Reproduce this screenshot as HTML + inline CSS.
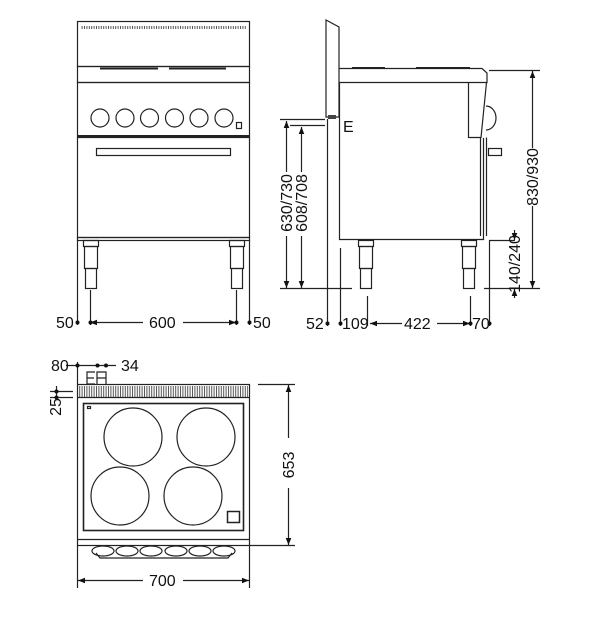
<!DOCTYPE html>
<html><head><style>
html,body{margin:0;padding:0;background:#fff;width:603px;height:630px;overflow:hidden}
text{font-family:"Liberation Sans",Arial,sans-serif;font-size:16px;fill:#111}
</style></head><body>
<svg width="603" height="630" viewBox="0 0 603 630" xmlns="http://www.w3.org/2000/svg">
<defs>
<pattern id="vent" x="0" y="0" width="2.4" height="12" patternUnits="userSpaceOnUse">
<rect x="0" y="0" width="1" height="12" fill="#555"/>
</pattern>
<marker id="ar" viewBox="0 0 10 10" refX="10" refY="5" markerWidth="6" markerHeight="6" orient="auto-start-reverse"><path d="M0,1 L10,5 L0,9 z" fill="#111"/></marker>
</defs>
<g fill="none" stroke="#222" stroke-width="1.2">
<!-- FRONT VIEW -->
<rect x="77.5" y="21.5" width="172" height="45"/>
<rect x="81" y="26" width="165" height="3" fill="url(#vent)" stroke="none"/>
<rect x="77.5" y="66.5" width="172" height="16"/>
<line x1="100" y1="68.5" x2="158" y2="68.5" stroke-width="2"/>
<line x1="169" y1="68.5" x2="226" y2="68.5" stroke-width="2"/>
<rect x="77.5" y="82.5" width="172" height="54"/>
<line x1="77" y1="136" x2="250" y2="136" stroke-width="2"/>
<circle cx="100" cy="118" r="9"/><circle cx="125" cy="118" r="9"/><circle cx="149.5" cy="118" r="9"/>
<circle cx="174.5" cy="118" r="9"/><circle cx="199" cy="118" r="9"/><circle cx="224" cy="118" r="9"/>
<rect x="236.5" y="122.5" width="5" height="6"/>
<rect x="77.5" y="137.5" width="172" height="100"/>
<rect x="96.5" y="148.5" width="134" height="7"/>
<rect x="77.5" y="237.5" width="172" height="3"/>
<rect x="83.5" y="240.5" width="15" height="6"/><rect x="84.5" y="246.5" width="13" height="22"/><rect x="85.5" y="268.5" width="11" height="20"/>
<rect x="229.5" y="240.5" width="15" height="6"/><rect x="230.5" y="246.5" width="13" height="22"/><rect x="231.5" y="268.5" width="11" height="20"/>
<line x1="77.5" y1="240" x2="77.5" y2="325"/><line x1="249.5" y1="240" x2="249.5" y2="325"/>
<line x1="90.5" y1="290" x2="90.5" y2="325"/><line x1="236.5" y1="290" x2="236.5" y2="325"/>
<line x1="90" y1="322.5" x2="143" y2="322.5" marker-start="url(#ar)"/>
<line x1="183" y1="322.5" x2="236" y2="322.5" marker-end="url(#ar)"/>

<!-- SIDE VIEW -->
<path d="M326,20 L339,27 L339,117 L326,117 Z"/>
<rect x="328" y="115" width="8" height="4" fill="#444" stroke="none"/>
<path d="M339.5,68.5 L482,68.5 L487,73 L487,82.5 L339.5,82.5"/>
<line x1="352" y1="68" x2="385" y2="68" stroke-width="2"/><line x1="416" y1="68" x2="470" y2="68" stroke-width="2"/>
<path d="M339.5,82.5 L339.5,239.5 L483.5,239.5 L483.5,138"/>
<path d="M468.5,82.5 L468.5,137.5 L481,137.5 L486.5,82.5"/>
<path d="M486,106 A10,12 0 0 1 486,130"/>
<line x1="480.5" y1="137.5" x2="480.5" y2="236"/><line x1="486.5" y1="137.5" x2="486.5" y2="236"/>
<rect x="488.5" y="148.5" width="13" height="7"/>
<rect x="358.5" y="240.5" width="15" height="6"/><rect x="359.5" y="246.5" width="13" height="22"/><rect x="360.5" y="268.5" width="11" height="20"/>
<rect x="461.5" y="240.5" width="15" height="6"/><rect x="462.5" y="246.5" width="13" height="22"/><rect x="463.5" y="268.5" width="11" height="20"/>
<line x1="280" y1="119.5" x2="325" y2="119.5"/><line x1="290" y1="125.5" x2="325" y2="125.5"/>
<line x1="280" y1="288.5" x2="352" y2="288.5"/>
<line x1="286.5" y1="121" x2="286.5" y2="172" marker-start="url(#ar)"/><line x1="286.5" y1="236" x2="286.5" y2="288" marker-end="url(#ar)"/>
<line x1="301.5" y1="127" x2="301.5" y2="172" marker-start="url(#ar)"/><line x1="301.5" y1="236" x2="301.5" y2="288" marker-end="url(#ar)"/>
<line x1="489" y1="70.5" x2="540" y2="70.5"/><line x1="484" y1="288.5" x2="540" y2="288.5"/>
<line x1="532.5" y1="71" x2="532.5" y2="148" marker-start="url(#ar)"/><line x1="532.5" y1="206" x2="532.5" y2="288" marker-end="url(#ar)"/>
<line x1="489" y1="240.5" x2="515" y2="240.5"/>
<line x1="514.5" y1="230" x2="514.5" y2="240" marker-end="url(#ar)"/><line x1="514.5" y1="289" x2="514.5" y2="298" marker-start="url(#ar)"/>
<line x1="327.5" y1="119" x2="327.5" y2="326"/><line x1="340.5" y1="248" x2="340.5" y2="326"/>
<line x1="367.5" y1="296" x2="367.5" y2="326"/><line x1="470.5" y1="296" x2="470.5" y2="326"/><line x1="489.5" y1="240" x2="489.5" y2="326"/>
<line x1="370" y1="323.5" x2="402" y2="323.5" marker-start="url(#ar)"/><line x1="437" y1="323.5" x2="470" y2="323.5" marker-end="url(#ar)"/>

<!-- TOP VIEW -->
<rect x="77.5" y="384.5" width="172" height="161"/>
<rect x="79" y="386" width="169" height="11" fill="url(#vent)" stroke="none"/>
<line x1="77" y1="397.5" x2="250" y2="397.5"/>
<rect x="83.5" y="403.5" width="160" height="127" stroke-width="1.6"/>
<rect x="87.5" y="406.5" width="3" height="2"/>
<circle cx="133" cy="437" r="29"/><circle cx="206" cy="437" r="29"/>
<circle cx="120" cy="496" r="29"/><circle cx="193" cy="496" r="29"/>
<rect x="227.5" y="511.5" width="12" height="11" stroke-width="1.5"/>
<line x1="77" y1="539.5" x2="250" y2="539.5"/>
<ellipse cx="103" cy="551" rx="11" ry="5"/><ellipse cx="127" cy="551" rx="11" ry="5"/><ellipse cx="151" cy="551" rx="11" ry="5"/>
<ellipse cx="176" cy="551" rx="11" ry="5"/><ellipse cx="200" cy="551" rx="11" ry="5"/><ellipse cx="224" cy="551" rx="11" ry="5"/>
<path d="M96,553 L100,558 L228,558 L232,553"/>
<path d="M87,384 L87,372 L95,372 M87,378 L94,378 M87,384 L95,384 M97,384 L97,372 L106,372 L106,384 M97,378 L106,378"/>
<line x1="77.5" y1="362" x2="77.5" y2="384"/>
<line x1="66" y1="365.5" x2="116" y2="365.5"/>
<line x1="77.5" y1="546" x2="77.5" y2="588"/><line x1="249.5" y1="546" x2="249.5" y2="588"/>
<line x1="78" y1="580.5" x2="143" y2="580.5" marker-start="url(#ar)"/><line x1="183" y1="580.5" x2="249" y2="580.5" marker-end="url(#ar)"/>
<line x1="258" y1="384.5" x2="295" y2="384.5"/><line x1="250" y1="545.5" x2="295" y2="545.5"/>
<line x1="288.5" y1="385" x2="288.5" y2="438" marker-start="url(#ar)"/><line x1="288.5" y1="488" x2="288.5" y2="545" marker-end="url(#ar)"/>
<line x1="50" y1="391.5" x2="73" y2="391.5"/><line x1="50" y1="397.5" x2="73" y2="397.5"/>
<line x1="56.5" y1="386" x2="56.5" y2="400"/>
</g>
<g fill="#111">
<circle cx="77.5" cy="322.5" r="2"/><circle cx="90.5" cy="322.5" r="2"/><circle cx="236.5" cy="322.5" r="2"/><circle cx="249.5" cy="322.5" r="2"/>
<circle cx="327.5" cy="323.5" r="2"/><circle cx="340.5" cy="323.5" r="2"/><circle cx="470.5" cy="323.5" r="2"/><circle cx="489.5" cy="323.5" r="2"/>
<circle cx="77.5" cy="365.5" r="2"/><circle cx="97.5" cy="365.5" r="2"/><circle cx="106" cy="365.5" r="2"/>
<circle cx="56.5" cy="391.5" r="2"/><circle cx="56.5" cy="397.5" r="2"/>
</g>
<text x="56" y="328">50</text><text x="149" y="328">600</text><text x="253" y="328">50</text>
<text x="343" y="132" font-size="18">E</text>
<text x="306" y="329">52</text><text x="342" y="329">109</text><text x="404" y="329">422</text><text x="472" y="329">70</text>
<text transform="translate(292,203) rotate(-90)" text-anchor="middle">630/730</text>
<text transform="translate(307,203) rotate(-90)" text-anchor="middle">608/708</text>
<text transform="translate(538,177) rotate(-90)" text-anchor="middle">830/930</text>
<text transform="translate(520,264) rotate(-90)" text-anchor="middle">140/240</text>
<text x="51" y="371">80</text><text x="121" y="371">34</text>
<text transform="translate(61,407) rotate(-90)" text-anchor="middle">25</text>
<text transform="translate(294,465) rotate(-90)" text-anchor="middle">653</text>
<text x="149" y="586">700</text>
</svg>
</body></html>
